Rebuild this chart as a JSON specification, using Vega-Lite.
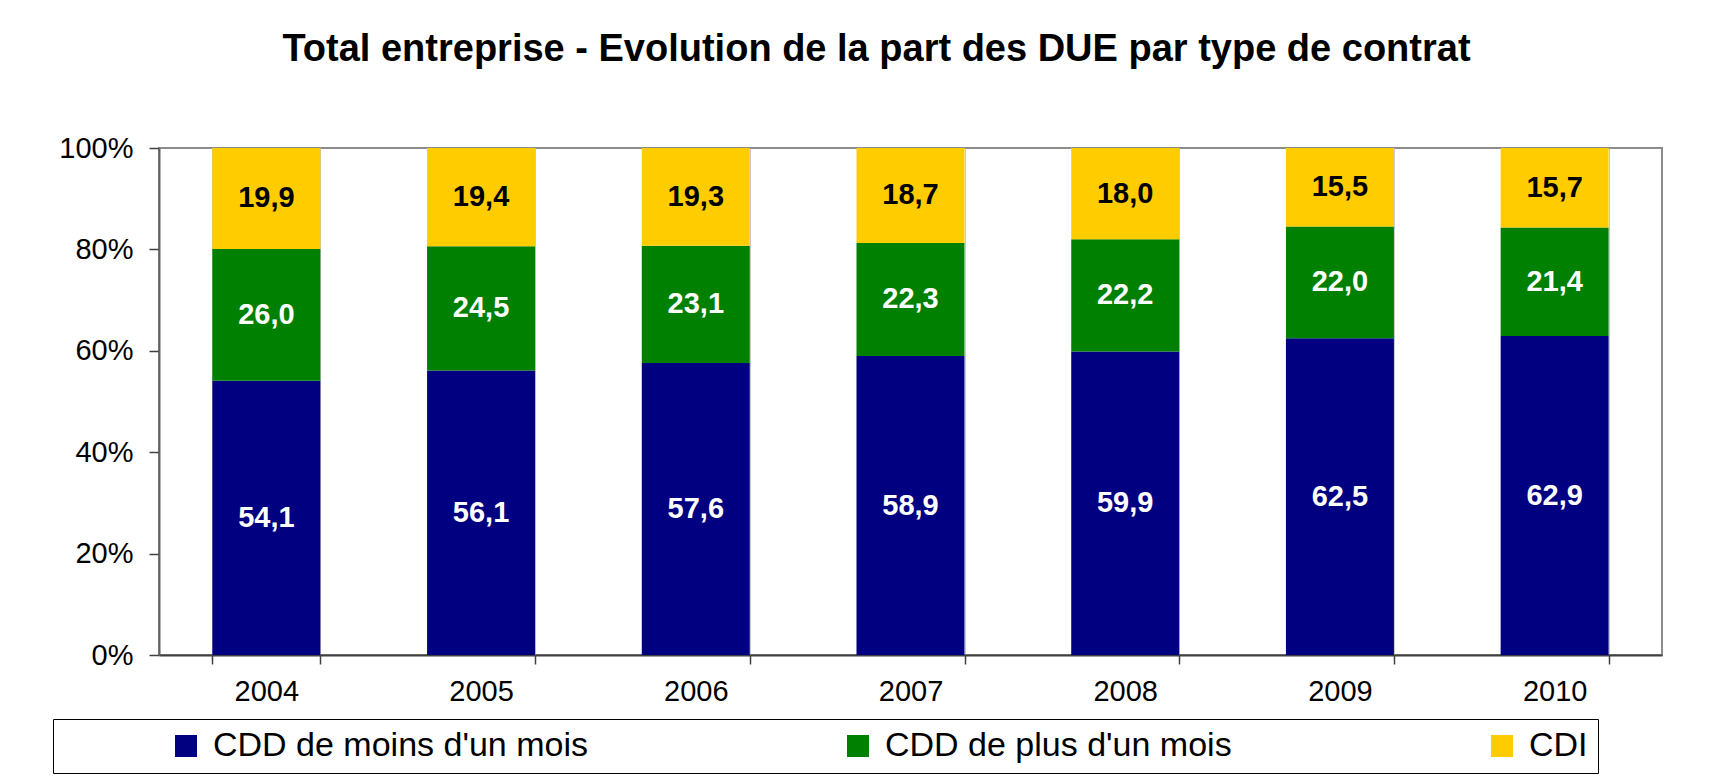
{
  "$schema": "https://vega.github.io/schema/vega-lite/v6.json",
  "autosize": {"type": "none"},
  "width": 1503,
  "height": 507,
  "padding": {"left": 159, "top": 148, "right": 56, "bottom": 124},
  "background": "white",
  "config": {
    "font": "Liberation Sans",
    "locale": {"number": {"decimal": ",", "thousands": " ", "grouping": [3], "currency": ["", " €"]}},
    "view": {"stroke": "#8c8c8c", "strokeWidth": 2}
  },
  "title": {
    "text": "Total entreprise - Evolution de la part des DUE par type de contrat",
    "font": "Liberation Sans",
    "fontSize": 38,
    "fontWeight": "bold",
    "color": "black",
    "anchor": "middle",
    "frame": "group",
    "dx": -34,
    "baseline": "alphabetic",
    "offset": 35
  },
  "data": {
    "values": [
      {"year": "2004", "type": "CDD de moins d'un mois", "value": 54.1},
      {"year": "2004", "type": "CDD de plus d'un mois", "value": 26.0},
      {"year": "2004", "type": "CDI", "value": 19.9},
      {"year": "2005", "type": "CDD de moins d'un mois", "value": 56.1},
      {"year": "2005", "type": "CDD de plus d'un mois", "value": 24.5},
      {"year": "2005", "type": "CDI", "value": 19.4},
      {"year": "2006", "type": "CDD de moins d'un mois", "value": 57.6},
      {"year": "2006", "type": "CDD de plus d'un mois", "value": 23.1},
      {"year": "2006", "type": "CDI", "value": 19.3},
      {"year": "2007", "type": "CDD de moins d'un mois", "value": 58.9},
      {"year": "2007", "type": "CDD de plus d'un mois", "value": 22.3},
      {"year": "2007", "type": "CDI", "value": 18.7},
      {"year": "2008", "type": "CDD de moins d'un mois", "value": 59.9},
      {"year": "2008", "type": "CDD de plus d'un mois", "value": 22.2},
      {"year": "2008", "type": "CDI", "value": 18.0},
      {"year": "2009", "type": "CDD de moins d'un mois", "value": 62.5},
      {"year": "2009", "type": "CDD de plus d'un mois", "value": 22.0},
      {"year": "2009", "type": "CDI", "value": 15.5},
      {"year": "2010", "type": "CDD de moins d'un mois", "value": 62.9},
      {"year": "2010", "type": "CDD de plus d'un mois", "value": 21.4},
      {"year": "2010", "type": "CDI", "value": 15.7}
    ]
  },
  "transform": [
    {"stack": "value", "groupby": ["year"], "sort": [{"field": "type", "order": "ascending"}], "offset": "normalize", "as": ["y0", "y1"]}
  ],
  "layer": [
    {
      "mark": {"type": "bar"},
      "encoding": {
        "x": {
          "field": "year",
          "type": "nominal",
          "scale": {"paddingInner": 0.497, "paddingOuter": 0.2485},
          "axis": {
            "title": null,
            "labelAngle": 0,
            "labelFontSize": 29,
            "labelColor": "black",
            "labelPadding": 13,
            "tickBand": "extent",
            "tickSize": 9,
            "tickColor": "#404040",
            "tickWidth": 1.5,
            "domainColor": "#404040",
            "domainWidth": 2,
            "grid": true,
            "gridColor": "#c8c8c8",
            "gridWidth": 1
          }
        },
        "y": {
          "field": "y0",
          "type": "quantitative",
          "scale": {"domain": [0, 1], "nice": false},
          "axis": {
            "title": null,
            "values": [0, 0.2, 0.4, 0.6, 0.8, 1],
            "format": ".0%",
            "labelFontSize": 29,
            "labelColor": "black",
            "labelPadding": 16,
            "tickSize": 10,
            "tickColor": "#404040",
            "tickWidth": 1.5,
            "domainColor": "#606060",
            "domainWidth": 2,
            "grid": false
          }
        },
        "y2": {"field": "y1"},
        "color": {
          "field": "type",
          "type": "nominal",
          "scale": {
            "domain": ["CDD de moins d'un mois", "CDD de plus d'un mois", "CDI"],
            "range": ["#000080", "#008000", "#FFCC00"]
          },
          "legend": {
            "title": "\u00a0",
            "titleOrient": "left",
            "titleFontSize": 10,
            "titlePadding": 106,
            "orient": "none",
            "legendX": -106,
            "legendY": 571,
            "direction": "horizontal",
            "symbolType": "square",
            "symbolSize": 484,
            "symbolStrokeWidth": 0,
            "symbolOpacity": 1,
            "labelFontSize": 34,
            "labelColor": "black",
            "labelOffset": 10,
            "labelLimit": 1000,
            "columnPadding": 253,
            "padding": 10,
            "strokeColor": "black",
            "fillColor": "white"
          }
        }
      }
    },
    {
      "transform": [
        {"fold": ["y0", "y1"], "as": ["edge", "pos"]},
        {"aggregate": [{"op": "mean", "field": "pos", "as": "mid"}], "groupby": ["year", "type", "value"]}
      ],
      "mark": {"type": "text", "fontSize": 29, "fontWeight": "bold", "font": "Liberation Sans"},
      "encoding": {
        "x": {"field": "year", "type": "nominal"},
        "y": {"field": "mid", "type": "quantitative", "axis": {"title": null}},
        "text": {"field": "value", "type": "quantitative", "format": ".1f"},
        "color": {"condition": {"test": "datum.type === 'CDI'", "value": "black"}, "value": "white"}
      }
    }
  ]
}
